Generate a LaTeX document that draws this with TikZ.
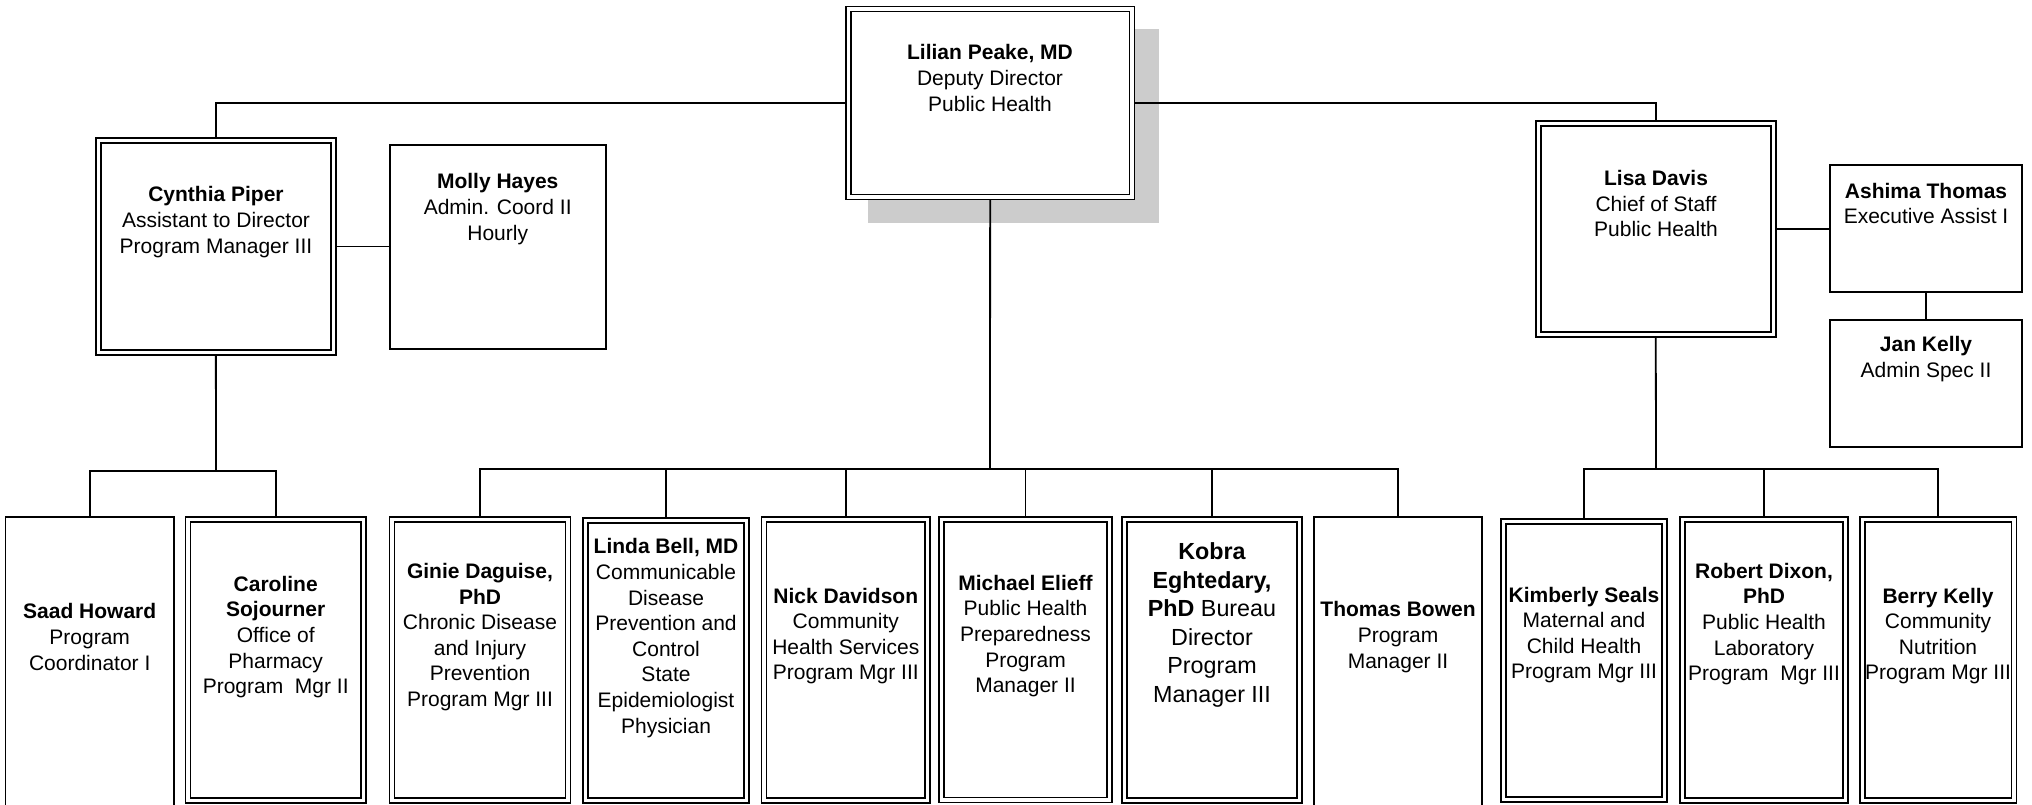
\documentclass[tikz,border=0pt]{standalone}
\usepackage{fontspec}
\setmainfont{Liberation Sans}
\pgfdeclarelayer{shadowlayer}
\pgfdeclarelayer{linelayer}
\pgfsetlayers{shadowlayer,linelayer,main}
\definecolor{shadowgray}{RGB}{204,204,204}
\tikzset{
  sbox/.style={draw=black, line width=0.9pt, fill=white, inner sep=0pt, outer sep=0pt, rectangle},
  dbox/.style={draw=black, line width=0.8pt, double=white, double distance=1.7pt, fill=white, inner sep=0pt, outer sep=0pt, rectangle},
  txt/.style={align=center, inner sep=0pt, font=\fontsize{10.5}{12.8}\selectfont},
  bigtxt/.style={align=center, inner sep=0pt, font=\fontsize{11.65}{14.3}\selectfont},
  conn/.style={draw=black, line width=0.9pt},
}
\newcommand{\orgS}[5]{%
  \pgfmathsetmacro\orgw{(#4-#2)*0.5}%
  \pgfmathsetmacro\orgh{(#5-#3)*0.5}%
  \node[sbox, minimum width=\orgw pt, minimum height=\orgh pt] (#1) at ({(#2+#4)/2},{(#3+#5)/2}) {};}
\newcommand{\orgD}[5]{%
  \pgfmathsetmacro\orgw{(#4-#2-5)*0.5}%
  \pgfmathsetmacro\orgh{(#5-#3-5)*0.5}%
  \node[dbox, minimum width=\orgw pt, minimum height=\orgh pt] (#1) at ({(#2+#4)/2},{(#3+#5)/2}) {};}
\begin{document}
\begin{tikzpicture}[x=0.5pt, y=-0.5pt]
\path[use as bounding box] (0,0) rectangle (2032,804);

% ---- boxes ----
\orgD{lil}{846}{6.3}{1134.3}{199.3}
\orgD{cyn}{96}{138}{335.7}{355}
\orgS{molly}{389.7}{144.7}{605.8}{349}
\orgD{lisa}{1535.8}{120.7}{1775.7}{337}
\orgS{ashima}{1829.7}{165.3}{2021.9}{291.7}
\orgS{jan}{1829.7}{320}{2021.9}{447.3}

\orgS{saad}{5.5}{516.7}{174}{807}
\orgD{caroline}{185.5}{516.7}{366}{803}
\orgD{ginie}{389.5}{516.7}{570.5}{803}
\orgD{linda}{583}{518}{749}{803}
\orgD{nick}{761.6}{516.7}{930}{803}
\orgD{michael}{939}{516.7}{1112}{802.5}
\orgD{kobra}{1122}{516.7}{1301.7}{803}
\orgS{thomas}{1314}{516.7}{1481.7}{807}
\orgD{kimberly}{1501}{519}{1667}{801.7}
\orgD{robert}{1680}{516.7}{1848}{803}
\orgD{berry}{1860}{516.7}{2016.5}{803}

% ---- texts ----
\node[txt] (lilT) at (990,78) {\textbf{Lilian Peake, MD}\\Deputy Director\\Public Health};
\node[txt] (cynT) at (216,222) {\textbf{Cynthia Piper}\\Assistant to Director\\Program Manager III};
\node[txt] (mollyT) at (497.7,209) {\textbf{Molly Hayes}\\Admin. Coord II\\Hourly};
\node[txt] (lisaT) at (1656,203.5) {\textbf{Lisa Davis}\\Chief of Staff\\Public Health};
\node[txt] (ashimaT) at (1926,203.5) {\textbf{Ashima Thomas}\\Executive Assist I};
\node[txt] (janT) at (1926,359) {\textbf{Jan Kelly}\\Admin Spec II};

\node[txt] (saadT) at (89.7,637) {\textbf{Saad Howard}\\Program\\Coordinator I};
\node[txt] (carolineT) at (275.7,637) {\textbf{Caroline}\\\textbf{Sojourner}\\Office of\\Pharmacy\\Program\ \ Mgr II};
\node[txt] (ginieT) at (480,637) {\textbf{Ginie Daguise,}\\\textbf{PhD}\\Chronic Disease\\and Injury\\Prevention\\Program Mgr III};
\node[txt] (lindaT) at (666,638) {\textbf{Linda Bell, MD}\\Communicable\\Disease\\Prevention and\\Control\\State\\Epidemiologist\\Physician};
\node[txt] (nickT) at (845.8,636) {\textbf{Nick Davidson}\\Community\\Health Services\\Program Mgr III};
\node[txt] (michaelT) at (1025.5,636) {\textbf{Michael Elieff}\\Public Health\\Preparedness\\Program\\Manager II};
\node[bigtxt] (kobraT) at (1212,625) {\textbf{Kobra}\\\textbf{Eghtedary,}\\\textbf{PhD} Bureau\\Director\\Program\\Manager III};
\node[txt] (thomasT) at (1398,637) {\textbf{Thomas Bowen}\\Program\\Manager II};
\node[txt] (kimberlyT) at (1584,635) {\textbf{Kimberly Seals}\\Maternal and\\Child Health\\Program Mgr III};
\node[txt] (robertT) at (1764,624) {\textbf{Robert Dixon,}\\\textbf{PhD}\\Public Health\\Laboratory\\Program\ \ Mgr III};
\node[txt] (berryT) at (1938,636) {\textbf{Berry Kelly}\\Community\\Nutrition\\Program Mgr III};

% ---- background and shadow ----
\begin{pgfonlayer}{shadowlayer}
\fill[white] (0,0) rectangle (2032,804);
\fill[shadowgray] ([shift={(19.8,20.5)}]lil.north west) rectangle ([shift={(27.5,26.5)}]lil.south east);
\end{pgfonlayer}

% ---- connectors ----
\begin{pgfonlayer}{linelayer}
\coordinate (cbus) at (216,470.7);
\coordinate (mbus) at (990,469);
\coordinate (rbus) at (1656,469);
\draw[conn] (cyn.north) |- (lil.west);
\draw[conn] (lil.east) -| (lisa.north);
\draw[conn] (cyn.east) -- (molly.west |- cyn.east);
\draw[conn] (lisa.east) -- (ashima.west |- lisa.east);
\draw[conn] (ashima.south) -- (jan.north);

\draw[conn] (cyn.south) -- (cbus);
\draw[conn] (saad.north) |- (cbus);
\draw[conn] (caroline.north) |- (cbus);

\draw[conn] (lil.south) -- (mbus);
\draw[conn] (ginie.north) |- (mbus);
\draw[conn] (linda.north) |- (mbus);
\draw[conn] (nick.north) |- (mbus);
\draw[conn] (michael.north) |- (mbus);
\draw[conn] (kobra.north) |- (mbus);
\draw[conn] (thomas.north) |- (mbus);

\draw[conn] (lisa.south) -- (rbus);
\draw[conn] (kimberly.north) |- (rbus);
\draw[conn] (robert.north) |- (rbus);
\draw[conn] (berry.north) |- (rbus);
\end{pgfonlayer}
\end{tikzpicture}
\end{document}
